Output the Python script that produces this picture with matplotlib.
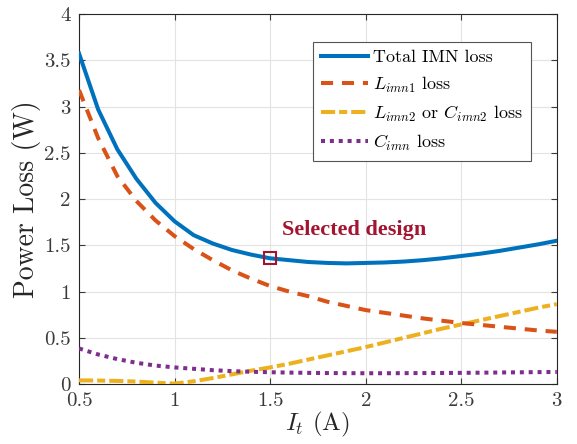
import matplotlib
matplotlib.use("Agg")
import matplotlib.pyplot as plt

plt.rcParams['font.family'] = ['cmr10', 'DejaVu Serif']
plt.rcParams['mathtext.fontset'] = 'cm'
plt.rcParams['axes.formatter.use_mathtext'] = True

current = [0.5, 0.6, 0.7, 0.8, 0.9, 1.0, 1.1, 1.2, 1.3, 1.4, 1.5, 1.6, 1.7, 1.8, 1.9,
           2.0, 2.1, 2.2, 2.3, 2.4, 2.5, 2.6, 2.7, 2.8, 2.9, 3.0]
total_loss = [3.575, 2.97, 2.54, 2.22, 1.96, 1.76, 1.61, 1.52, 1.45, 1.40, 1.36, 1.34, 1.32,
              1.31, 1.305, 1.31, 1.315, 1.325, 1.34, 1.36, 1.385, 1.41, 1.44, 1.475, 1.51, 1.55]
l1_loss = [3.18, 2.66, 2.25, 1.98, 1.77, 1.60, 1.46, 1.34, 1.23, 1.14, 1.06, 1.00, 0.95,
           0.89, 0.845, 0.80, 0.77, 0.74, 0.71, 0.685, 0.66, 0.64, 0.62, 0.60, 0.58, 0.565]
l2_loss = [0.04, 0.038, 0.034, 0.027, 0.015, 0.005, 0.03, 0.065, 0.105, 0.145, 0.18, 0.22,
           0.265, 0.31, 0.355, 0.40, 0.45, 0.50, 0.55, 0.60, 0.645, 0.69, 0.735, 0.78, 0.825, 0.865]
c_loss = [0.385, 0.32, 0.27, 0.23, 0.20, 0.18, 0.165, 0.15, 0.14, 0.133, 0.128, 0.124, 0.121,
          0.119, 0.118, 0.117, 0.117, 0.118, 0.119, 0.12, 0.121, 0.123, 0.125, 0.127, 0.129, 0.131]
labels = ['Total IMN loss', r'$L_{imn1}$ loss', r'$L_{imn2}$ or $C_{imn2}$ loss', r'$C_{imn}$ loss']
selected_x = 1.5
selected_y = 1.36
xticks = [0.5, 1, 1.5, 2, 2.5, 3]
xticklabels = ['0.5', '1', '1.5', '2', '2.5', '3']
yticks = [0, 0.5, 1, 1.5, 2, 2.5, 3, 3.5, 4]
yticklabels = ['0', '0.5', '1', '1.5', '2', '2.5', '3', '3.5', '4']

fig = plt.figure(figsize=(5.77, 4.44), dpi=100)
ax = fig.add_axes([0.137, 0.135, 0.828, 0.833])

lw = 2.9
ax.plot(current, total_loss, color='#0072BD', lw=lw, label=labels[0], zorder=5)
ax.plot(current, l1_loss, color='#D95319', lw=lw, dashes=(3, 2.2), label=labels[1], zorder=4)
ax.plot(current, l2_loss, color='#EDB120', lw=lw, dashes=(3.5, 1, 2, 1), label=labels[2], zorder=3)
ax.plot(current, c_loss, color='#7E2F8E', lw=lw, dashes=(1, 1.2), label=labels[3], zorder=3)

ax.plot([selected_x], [selected_y], marker='s', markersize=9, markerfacecolor='none',
        markeredgecolor='#A2142F', markeredgewidth=1.5, zorder=6)
ax.text(1.561, 1.61, 'Selected design', color='#A2142F', fontsize=16, fontweight='bold',
        va='baseline', ha='left', family=['Liberation Serif'])

ax.set_xlim(0.5, 3)
ax.set_ylim(0, 4)
ax.set_xticks(xticks)
ax.set_xticklabels(xticklabels)
ax.set_yticks(yticks)
ax.set_yticklabels(yticklabels)
ax.grid(True, color='#e3e3e3', lw=0.8)
ax.set_axisbelow(True)
ax.tick_params(direction='in', top=True, right=True, labelsize=15, colors='#3a3a3a',
               length=4, width=0.8, pad=6)
for s in ax.spines.values():
    s.set_color('#262626')
    s.set_linewidth(0.8)

ax.set_xlabel(r'$I_t$ (A)', fontsize=18, color='#262626', labelpad=0)
ax.set_ylabel('Power Loss (W)', fontsize=20, color='#262626', labelpad=2)

leg = ax.legend(loc='upper left', bbox_to_anchor=(0.47, 0.95), fontsize=13,
                handlelength=2.6, frameon=True, fancybox=False, framealpha=1,
                edgecolor='#555555', borderpad=0.45, labelspacing=0.5, handletextpad=0.3)
leg.get_frame().set_linewidth(0.8)

fig.savefig('out.png', dpi=100)
